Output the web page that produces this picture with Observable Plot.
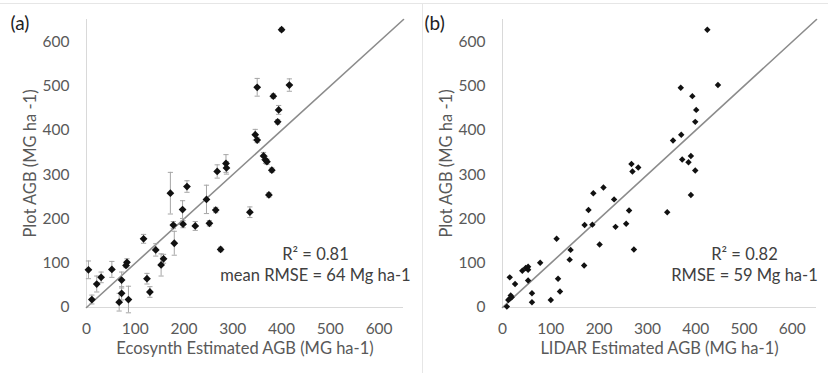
<!DOCTYPE html>
<html>
<head>
<meta charset="utf-8">
<script src="https://cdn.jsdelivr.net/npm/d3@7"></script>
<script src="https://cdn.jsdelivr.net/npm/@observablehq/plot@0.6"></script>
<style>
  html, body { margin: 0; padding: 0; background: #fff; }
  #wrap { position: relative; width: 828px; height: 373px; overflow: hidden; font-family: Lato, "Open Sans", sans-serif; }
  #topline { position: absolute; left: 0; top: 3px; width: 828px; height: 1px; background: #e6e6e6; }
  #divider { position: absolute; left: 422px; top: 3px; width: 1px; height: 370px; background: #e6e6e6; }
  #pa { position: absolute; left: 0; top: 0; }
  #pb { position: absolute; left: 414px; top: 0; }
</style>
</head>
<body>
<div id="wrap">
  <div id="topline"></div>
  <div id="divider"></div>
  <div id="pa"></div>
  <div id="pb"></div>
</div>
<script>
// ---- Data ----
const ticks = [0, 100, 200, 300, 400, 500, 600];
const oneToOne = [0, 650];

// Panel (a): Ecosynth estimated AGB vs plot AGB, with error bars
const aX = [400,350,416,383,394,392,346,350,363,367,370,380,374,335,275,286,287,268,265,246,252,223,206,197,198,178,172,180,117,142,158,153,124,130,83,81,72,72,67,86,52,30,21,4,11];
const aY = [627,497,502,477,446,419,390,378,342,333,329,310,254,215,131,325,315,307,220,244,190,184,273,221,188,186,258,145,155,130,110,96,65,35,102,95,62,32,12,18,86,68,53,85,18];
const aErr = [4,20,14,5,10,5,12,6,8,8,6,5,5,12,5,20,14,15,6,32,6,10,13,20,8,8,47,27,10,14,10,25,12,12,8,5,18,15,20,30,18,12,18,20,10];

// Panel (b): LIDAR estimated AGB vs plot AGB
const bX = [424,446,369,393,401,399,353,370,390,372,385,399,390,341,272,267,281,269,262,256,231,234,209,188,178,186,170,201,169,141,139,112,115,119,100,78,53,48,41,53,53,61,61,15,26,17,15,19,12,9];
const bY = [627,502,496,477,446,419,377,390,342,334,328,309,254,215,131,324,316,307,219,189,244,182,271,258,220,187,186,142,95,130,108,155,65,36,17,101,92,89,83,85,61,32,12,68,53,27,20,23,17,2];

const panels = [
  {id: "pa", letter: "(a)", xLabel: "Ecosynth Estimated AGB (MG ha-1)", stats: "R² = 0.81\nmean RMSE = 64 Mg ha-1",
   xs: aX, ys: aY, errs: aErr, marginLeft: 86, marginRight: 11, r: 3.5, statsDx: -88},
  {id: "pb", letter: "(b)", xLabel: "LIDAR Estimated AGB (MG ha-1)", stats: "R² = 0.82\nRMSE = 59 Mg ha-1",
   xs: bX, ys: bY, errs: null, marginLeft: 88, marginRight: 12, r: 2.9, statsDx: -72}
];

const capSymbol = {
  draw(ctx, size) {
    const r = Math.sqrt(size / Math.PI);
    ctx.moveTo(-r, 0);
    ctx.lineTo(r, 0);
  }
};

const textColor = "#595959";

for (const p of panels) {
  const data = p.xs.map((x, i) => ({x, y: p.ys[i], e: p.errs ? p.errs[i] : 0}));
  const marks = [
    Plot.ruleX([0], {stroke: "#d9d9d9", strokeWidth: 1}),
    Plot.ruleY([0], {stroke: "#d9d9d9", strokeWidth: 1}),
    Plot.axisX(ticks, {tickSize: 0, tickPadding: 15, fontSize: 15.5, fill: textColor, label: null}),
    Plot.axisY(ticks, {tickSize: 0, tickPadding: 17, fontSize: 15.5, fill: textColor, label: null}),
    Plot.line(oneToOne.map(v => ({x: v, y: v})), {x: "x", y: "y", stroke: "#8c8c8c", strokeWidth: 1.6})
  ];
  if (p.errs) {
    marks.push(
      Plot.ruleX(data, {x: "x", y1: d => d.y - d.e, y2: d => d.y + d.e, stroke: "#a6a6a6", strokeWidth: 1}),
      Plot.dot(data, {x: "x", y: d => d.y - d.e, symbol: capSymbol, r: 2.6, stroke: "#a6a6a6", strokeWidth: 1, fill: "none"}),
      Plot.dot(data, {x: "x", y: d => d.y + d.e, symbol: capSymbol, r: 2.6, stroke: "#a6a6a6", strokeWidth: 1, fill: "none"})
    );
  }
  marks.push(
    Plot.dot(data, {x: "x", y: "y", symbol: "diamond2", r: p.r, fill: "#111", stroke: "none"}),
    Plot.text([p.stats], {frameAnchor: "bottom-right", dx: p.statsDx, dy: -44, textAnchor: "middle", lineAnchor: "middle", lineHeight: 1.3, fontSize: 16.5, fill: "#404040"}),
    Plot.text([p.xLabel], {frameAnchor: "bottom", dy: 41, textAnchor: "middle", lineAnchor: "middle", fontSize: 16.5, fill: textColor}),
    Plot.text(["Plot AGB (MG ha -1)"], {frameAnchor: "left", dx: -56, rotate: -90, textAnchor: "middle", lineAnchor: "middle", fontSize: 16.5, fill: textColor}),
    Plot.text([p.letter], {frameAnchor: "top-left", dx: -(p.marginLeft - 10), dy: 4, textAnchor: "start", lineAnchor: "middle", fontSize: 19, fill: "#222"})
  );
  const chart = Plot.plot({
    width: 414,
    height: 373,
    marginLeft: p.marginLeft,
    marginRight: p.marginRight,
    marginTop: 19,
    marginBottom: 66,
    style: {fontFamily: "Lato, 'Open Sans', sans-serif", background: "transparent", overflow: "visible"},
    x: {domain: [0, 650]},
    y: {domain: [0, 650]},
    marks
  });
  document.getElementById(p.id).appendChild(chart);
}
</script>
</body>
</html>
